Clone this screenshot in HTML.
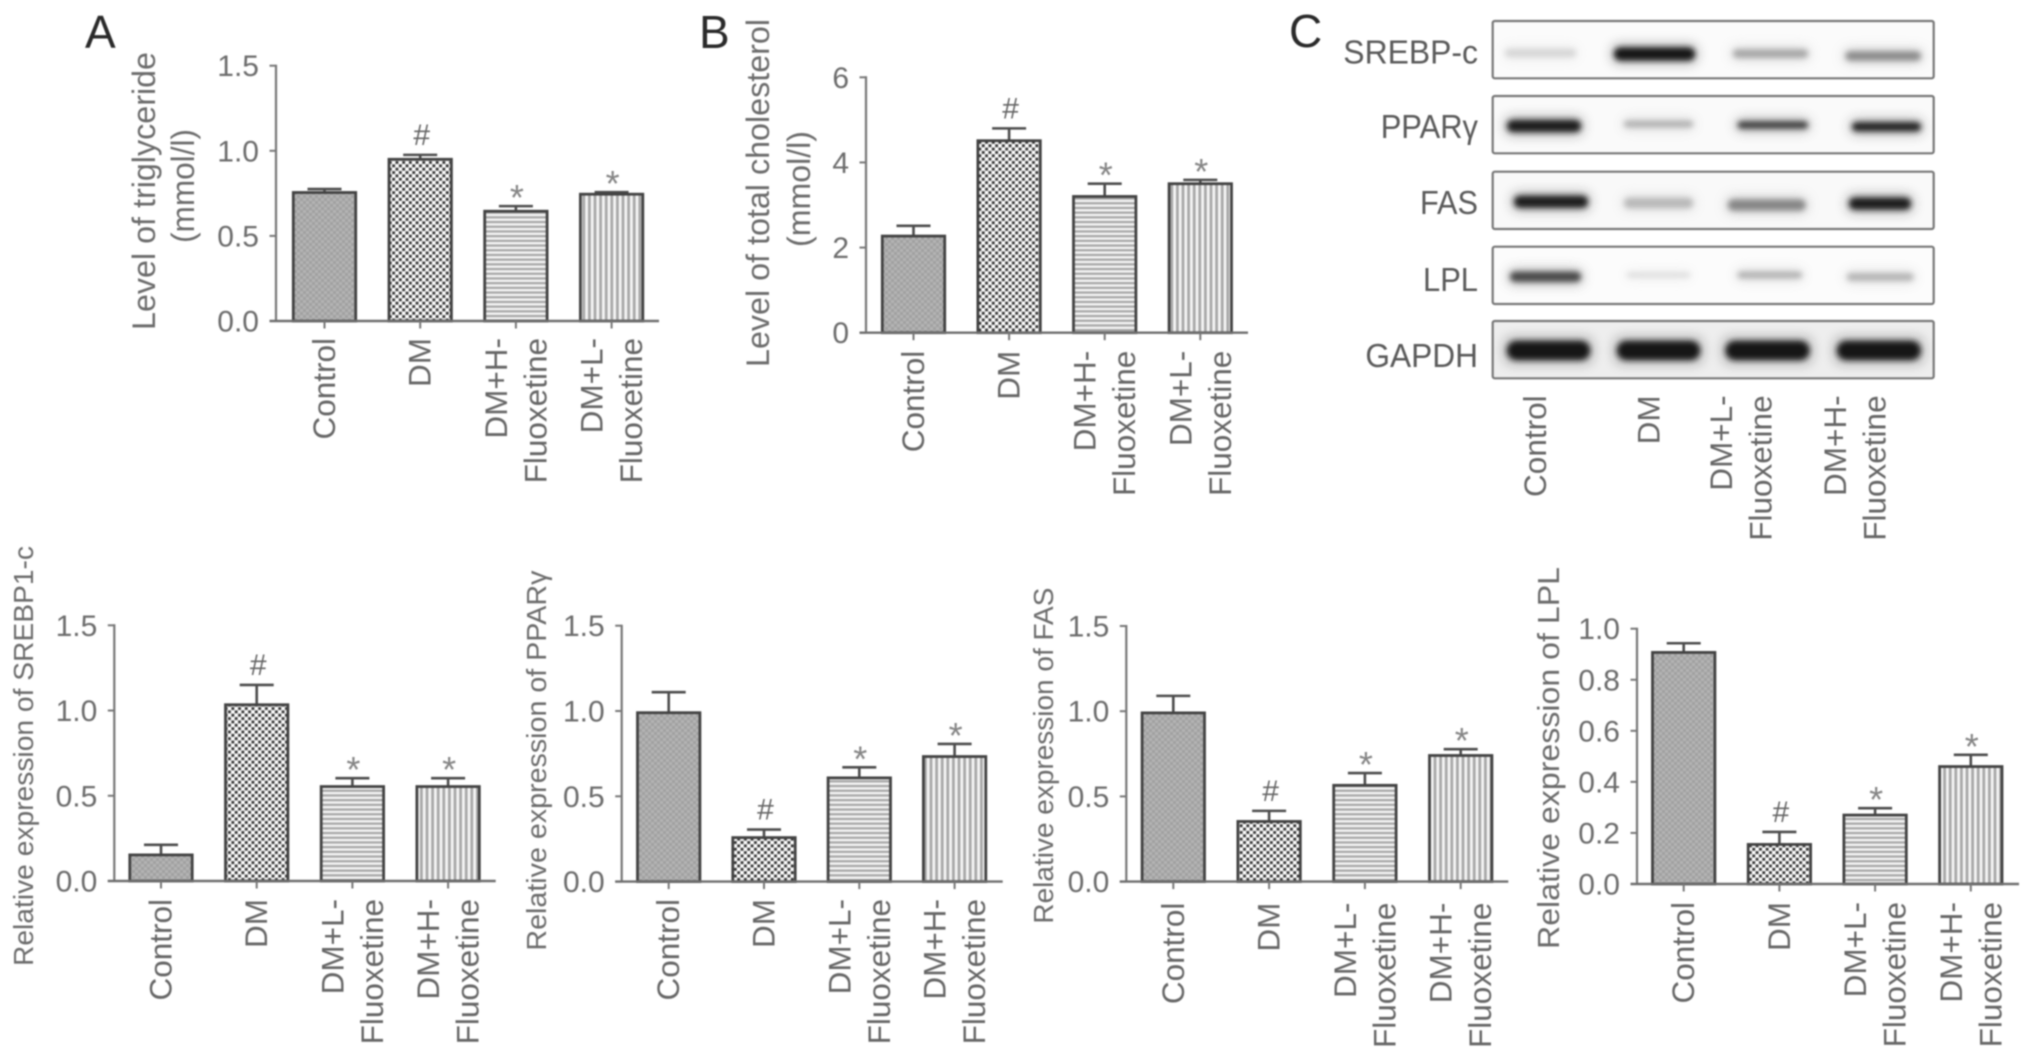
<!DOCTYPE html>
<html lang="en">
<head>
<meta charset="utf-8">
<title>Lipid levels and protein expression</title>
<style>
html,body{margin:0;padding:0;background:#fff;width:2032px;height:1060px;overflow:hidden}
svg{display:block;filter:blur(0.8px)}
text{font-family:"Liberation Sans",sans-serif}
</style>
</head>
<body>
<svg id="figure" xmlns="http://www.w3.org/2000/svg" width="2032" height="1060" viewBox="0 0 2032 1060">
<defs>
<pattern id="pat-control" patternUnits="userSpaceOnUse" width="6" height="6">
<rect width="6" height="6" fill="#b4b4b4"/>
<rect x="0" y="0" width="3" height="3" fill="#a0a0a0"/>
<rect x="3" y="3" width="3" height="3" fill="#a0a0a0"/>
</pattern>
<pattern id="pat-dm" patternUnits="userSpaceOnUse" width="6.7" height="6.7">
<rect width="6.7" height="6.7" fill="#bcbcbc"/>
<circle cx="1.67" cy="1.67" r="1.4" fill="#2e2e2e"/>
<circle cx="5.02" cy="5.02" r="1.4" fill="#2e2e2e"/>
<circle cx="5.02" cy="1.67" r="1.8" fill="#ffffff"/>
<circle cx="1.67" cy="5.02" r="1.8" fill="#ffffff"/>
</pattern>
<pattern id="pat-horizontal" patternUnits="userSpaceOnUse" width="4.7" height="4.7">
<rect width="4.7" height="4.7" fill="#f4f4f4"/>
<rect y="0" width="4.7" height="2.3" fill="#a8a8a8"/>
</pattern>
<pattern id="pat-vertical" patternUnits="userSpaceOnUse" width="5.6" height="5.6">
<rect width="5.6" height="5.6" fill="#f4f4f4"/>
<rect x="0" width="2.8" height="5.6" fill="#a8a8a8"/>
</pattern>
<filter id="band-core" x="-20%" y="-150%" width="140%" height="400%"><feGaussianBlur stdDeviation="2.8"/></filter>
<filter id="band-halo" x="-30%" y="-200%" width="160%" height="500%"><feGaussianBlur stdDeviation="6"/></filter>
</defs>
<text x="85" y="48" font-size="46" fill="#2a2a2a">A</text>
<text x="699" y="48" font-size="46" fill="#2a2a2a">B</text>
<text x="1289" y="47" font-size="46" fill="#2a2a2a">C</text>
</svg>
<script>
// ---- chart data ----
const categoriesHighFirst = ["Control", "DM", "DM+H- Fluoxetine", "DM+L- Fluoxetine"];
const categoriesLowFirst = ["Control", "DM", "DM+L- Fluoxetine", "DM+H- Fluoxetine"];
const significanceMarks = ["", "#", "*", "*"];

const ticksTriglyceride = ["0.0", "0.5", "1.0", "1.5"];
const ticksCholesterol = ["0", "2", "4", "6"];
const ticksSrebp = ["0.0", "0.5", "1.0", "1.5"];
const ticksPpar = ["0.0", "0.5", "1.0", "1.5"];
const ticksFas = ["0.0", "0.5", "1.0", "1.5"];
const ticksLpl = ["0.0", "0.2", "0.4", "0.6", "0.8", "1.0"];

const valuesTriglyceride = [0.755, 0.95, 0.645, 0.745];
const errorsTriglyceride = [0.02, 0.026, 0.03, 0.012];
const valuesCholesterol = [2.27, 4.51, 3.2, 3.5];
const errorsCholesterol = [0.24, 0.29, 0.3, 0.09];
const valuesSrebp = [0.153, 1.034, 0.554, 0.554];
const errorsSrebp = [0.059, 0.116, 0.049, 0.049];
const valuesPpar = [0.99, 0.258, 0.608, 0.733];
const errorsPpar = [0.12, 0.047, 0.062, 0.074];
const valuesFas = [0.99, 0.353, 0.565, 0.74];
const errorsFas = [0.1, 0.062, 0.072, 0.037];
const valuesLpl = [0.907, 0.155, 0.27, 0.46];
const errorsLpl = [0.036, 0.049, 0.027, 0.046];

const barFills = ["url(#pat-control)", "url(#pat-dm)", "url(#pat-horizontal)", "url(#pat-vertical)"];

const svg = document.getElementById("figure");

function make(tag, attrs, parent, content) {
  const node = document.createElementNS("http://www.w3.org/2000/svg", tag);
  for (const key in attrs) node.setAttribute(key, attrs[key]);
  if (content !== undefined) node.textContent = content;
  parent.appendChild(node);
  return node;
}

function drawPanel(p, categories, ticks, values, errors) {
  const group = make("g", {}, svg);
  
  

  const yMax = parseFloat(ticks[ticks.length - 1]);
  const yScale = function (v) { return p.y0 - (v / yMax) * (p.y0 - p.yTop); };
  const xScale = function (i) { return p.x0 + i * p.step; };

  // y-axis titles
  p.titles.forEach(function (t) {
    const title = make("text", {
      x: t.x, y: t.cy, "font-size": t.size, fill: "#6c6c6c", "text-anchor": "middle",
      transform: "rotate(-90 " + t.x + " " + t.cy + ")", textLength: t.len, lengthAdjust: "spacingAndGlyphs"
    }, group, t.text);
    
    
  });

  // bars and error bars
  values.forEach(function (v, i) {
    const cx = xScale(i);
    const top = yScale(v);
    const errTop = yScale(v + errors[i]);

    const stem = make("line", { x1: cx, x2: cx, y1: top, y2: errTop, stroke: "#4c4c4c", "stroke-width": 2.6 }, group);
    
    

    const cap = make("line", { x1: cx - 17, x2: cx + 17, y1: errTop, y2: errTop, stroke: "#4c4c4c", "stroke-width": 2.6 }, group);
    
    

    const bar = make("rect", {
      x: cx - 31.2, y: top, width: 62.4, height: p.y0 - top,
      fill: barFills[i], stroke: "#424242", "stroke-width": 2.8
    }, group);
    
    

    const mark = significanceMarks[i];
    if (mark === "#") {
      const hash = make("text", { x: cx + 1.5, y: errTop - 10, "font-size": 30, fill: "#666", "text-anchor": "middle" }, group, mark);
      
      
    } else if (mark === "*") {
      const star = make("text", { x: cx + 1, y: errTop + 4, "font-size": 36, fill: "#858585", "text-anchor": "middle" }, group, mark);
      
      
    }
  });

  // y axis
  const yAxis = make("line", { x1: p.axisX, x2: p.axisX, y1: p.yTop - 1, y2: p.y0, stroke: "#777", "stroke-width": 2.2 }, group);
  
  

  ticks.forEach(function (label) {
    const y = yScale(parseFloat(label));
    const tick = make("line", { x1: p.axisX - 6.5, x2: p.axisX, y1: y, y2: y, stroke: "#777", "stroke-width": 2 }, group);
    
    

    const tickLabel = make("text", { x: p.axisX - 17, y: y + 10.5, "font-size": 30, fill: "#6c6c6c", "text-anchor": "end" }, group, label);
    
    
  });

  // x axis
  const xAxis = make("line", { x1: p.axisX - 6.5, x2: p.xEnd, y1: p.y0, y2: p.y0, stroke: "#6e6e6e", "stroke-width": 2.4 }, group);
  
  

  categories.forEach(function (name, i) {
    const cx = xScale(i);
    const tick = make("line", { x1: cx, x2: cx, y1: p.y0, y2: p.y0 + 7.5, stroke: "#777", "stroke-width": 2 }, group);
    
    

    drawCategory(group, name, cx, p.labelTop);
  });
}

function drawCategory(parent, name, cx, top) {
  const lines = name.split(" ");
  const offsets = lines.length === 1 ? [10.5] : [-9, 30.5];
  lines.forEach(function (line, k) {
    const x = cx + offsets[k];
    const label = make("text", {
      x: x, y: top - 1, "font-size": 31.5, fill: "#666", "text-anchor": "end",
      transform: "rotate(-90 " + x + " " + (top - 1) + ")"
    }, parent, line);
    
    
  });
}

drawPanel({ name: "triglyceride", axisX: 276, yTop: 65.7, y0: 321, xEnd: 659, x0: 324.5, step: 95.7, labelTop: 339,
  titles: [{ text: "Level of triglyceride", x: 155, cy: 191, len: 278, size: 32 }, { text: "(mmol/l)", x: 194, cy: 186, len: 114, size: 32 }] },
  categoriesHighFirst, ticksTriglyceride, valuesTriglyceride, errorsTriglyceride);

drawPanel({ name: "cholesterol", axisX: 866, yTop: 77.3, y0: 332.7, xEnd: 1248, x0: 913.5, step: 95.6, labelTop: 351.7,
  titles: [{ text: "Level of total cholesterol", x: 769, cy: 193, len: 348, size: 32 }, { text: "(mmol/l)", x: 810, cy: 189, len: 116, size: 32 }] },
  categoriesHighFirst, ticksCholesterol, valuesCholesterol, errorsCholesterol);

drawPanel({ name: "srebp", axisX: 114.3, yTop: 625.3, y0: 881, xEnd: 495.7, x0: 161, step: 95.7, labelTop: 900,
  titles: [{ text: "Relative expression of SREBP1-c", x: 33, cy: 756, len: 420, size: 28 }] },
  categoriesLowFirst, ticksSrebp, valuesSrebp, errorsSrebp);

drawPanel({ name: "ppar", axisX: 621.7, yTop: 625.7, y0: 881.6, xEnd: 1002.7, x0: 668.7, step: 95.3, labelTop: 900,
  titles: [{ text: "Relative expression of PPARγ", x: 546, cy: 760.6, len: 380, size: 28 }] },
  categoriesLowFirst, ticksPpar, valuesPpar, errorsPpar);

drawPanel({ name: "fas", axisX: 1126.3, yTop: 626, y0: 881.6, xEnd: 1508.3, x0: 1173.3, step: 95.8, labelTop: 903.6,
  titles: [{ text: "Relative expression of FAS", x: 1053, cy: 755.6, len: 336, size: 28 }] },
  categoriesLowFirst, ticksFas, valuesFas, errorsFas);

drawPanel({ name: "lpl", axisX: 1637, yTop: 628.7, y0: 884, xEnd: 2019, x0: 1683.7, step: 95.7, labelTop: 903,
  titles: [{ text: "Relative expression of LPL", x: 1559, cy: 758, len: 382, size: 31 }] },
  categoriesLowFirst, ticksLpl, valuesLpl, errorsLpl);

// ---- western blot ----
const blotProteins = ["SREBP-c", "PPARγ", "FAS", "LPL", "GAPDH"];
const blotRows = [
  { top: 21, bottom: 78.3, bg: "#fbfbfb", labelY: 63.6, labelStart: 1343.3,
    bands: [[1503, 1578, 53, 8, "#d6d6d6"], [1612, 1697, 54, 13, "#181818"], [1731, 1810, 53.6, 8, "#a4a4a4"], [1843.5, 1923, 56, 9, "#8a8a8a"]] },
  { top: 96, bottom: 153.3, bg: "#fafafa", labelY: 138, labelStart: 1380.7,
    bands: [[1505, 1583, 126, 12, "#1c1c1c"], [1622, 1695, 124, 6, "#acacac"], [1735.6, 1810, 125, 7, "#383838"], [1850, 1923, 126.8, 9, "#242424"]] },
  { top: 171.7, bottom: 229, bg: "#f9f9f9", labelY: 214, labelStart: 1420,
    bands: [[1512, 1590, 201.7, 12, "#1e1e1e"], [1622, 1695, 203, 10, "#b8b8b8"], [1726, 1807.6, 205, 11, "#868686"], [1847, 1913, 203.6, 12, "#1e1e1e"]] },
  { top: 246.7, bottom: 304, bg: "#fcfcfc", labelY: 291, labelStart: 1423,
    bands: [[1508, 1583, 276.7, 10, "#464646"], [1625, 1692, 275, 4, "#d8d8d8"], [1735.6, 1804, 275, 6, "#acacac"], [1845, 1915.5, 277, 7, "#b0b0b0"]] },
  { top: 321, bottom: 378.3, bg: "#eeeeee", labelY: 366.8, labelStart: 1365.4,
    bands: [[1505, 1592, 350.5, 19, "#181818"], [1615, 1702, 350.5, 19, "#181818"], [1723.6, 1811.4, 350.5, 19, "#181818"], [1835, 1922.7, 350.5, 19, "#181818"]] }
];

const blotGroup = make("g", {}, svg);



blotRows.forEach(function (row, r) {
  const box = make("rect", {
    x: 1492.7, y: row.top, width: 441, height: row.bottom - row.top, rx: 2,
    fill: row.bg, stroke: "#787878", "stroke-width": 2.2
  }, blotGroup);
  
  

  row.bands.forEach(function (b) {
    const halo = make("rect", {
      x: b[0], y: b[2] - b[3] / 2 - 3, width: b[1] - b[0], height: b[3] + 6, rx: 6,
      fill: b[4], opacity: 0.34, filter: "url(#band-halo)"
    }, blotGroup);
    
    

    const band = make("rect", {
      x: b[0] + 2, y: b[2] - b[3] / 2, width: b[1] - b[0] - 4, height: b[3], rx: b[3] / 2,
      fill: b[4], filter: "url(#band-core)"
    }, blotGroup);
    
    
  });

  const label = make("text", {
    x: row.labelStart, y: row.labelY, "font-size": 33, fill: "#5a5a5a",
    textLength: 1478 - row.labelStart, lengthAdjust: "spacingAndGlyphs"
  }, blotGroup, blotProteins[r]);
  
  
});

const blotLaneCenters = [1535.5, 1649, 1741, 1855];
categoriesLowFirst.forEach(function (name, i) {
  drawCategory(blotGroup, name, blotLaneCenters[i], 396.4);
});
</script>
</body>
</html>
